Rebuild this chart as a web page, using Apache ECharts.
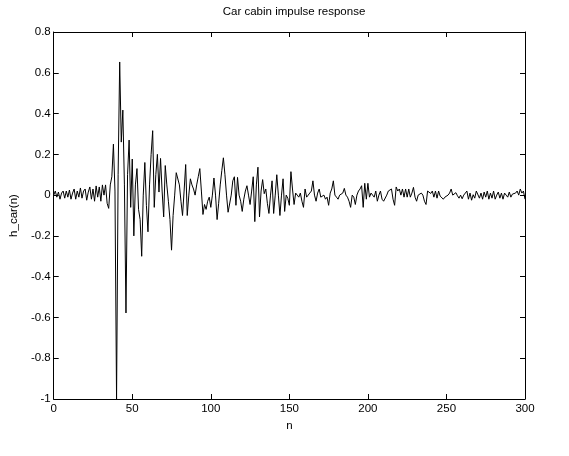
<!DOCTYPE html>
<html>
<head>
<meta charset="utf-8">
<script src="https://cdn.jsdelivr.net/npm/echarts@6/dist/echarts.min.js"></script>
<style>html,body{margin:0;padding:0;background:#fff}#c{width:569px;height:456px}</style>
</head>
<body>
<div id="c"></div>
<script>
const titleText = "Car cabin impulse response";
const xName = "n";
const yName = "h_car(n)";
const xTicks = [0, 50, 100, 150, 200, 250, 300];
const yTicks = [-1, -0.8, -0.6, -0.4, -0.2, 0, 0.2, 0.4, 0.6, 0.8];
const h = [
 0.00, 0.02, -0.01, 0.015, -0.02, 0.01, 0.02, -0.015, 0.02, -0.01,
 0.025, -0.02, 0.01, 0.03, -0.02, 0.02, -0.01, 0.035, -0.015, 0.02,
 0.03, -0.025, 0.015, 0.04, -0.02, 0.03, -0.03, 0.045, -0.01, 0.04,
 -0.03, 0.05, 0.0, 0.05, -0.04, -0.065, 0.05, 0.09, 0.25, 0.02,
 -1.0, 0.1, 0.653, 0.26, 0.417, 0.05, -0.578, 0.1, 0.27, -0.06,
 0.177, -0.2, 0.05, 0.13, -0.07, -0.12, -0.3, 0.0, 0.16, -0.05,
 -0.18, 0.05, 0.2, 0.316, -0.06, 0.1, 0.2, 0.015, 0.18, 0.02,
 -0.107, 0.145, 0.05, -0.03, -0.12, -0.27, -0.1, 0.0, 0.11, 0.115,
 0.05, -0.03, -0.1, 0.02, 0.15, -0.1, 0.0, 0.08, 0.05, 0.03,
 0.0, 0.05, 0.09, 0.13, 0.02, -0.095, -0.046, -0.07, -0.03, -0.01,
 -0.06, 0.0, 0.084, 0.0, -0.12, -0.04, 0.05, 0.12, 0.183, 0.1,
 0.0, -0.084, -0.09, 0.0, 0.07, 0.09, -0.05, 0.087, 0.0, -0.03,
 -0.08, -0.02, 0.02, 0.046, 0.0, -0.046, 0.02, 0.09, -0.13, 0.05,
 0.137, -0.107, 0.02, 0.076, 0.007, 0.03, -0.04, -0.09, 0.0, 0.07,
 -0.09, 0.0, 0.1, 0.0, -0.1, 0.0, 0.08, -0.08, 0.0, -0.015,
 -0.05, 0.115, 0.03, -0.046, 0.01, 0.0, -0.01, 0.01, -0.03, -0.06,
 0.03, -0.01, 0.0, 0.01, 0.02, 0.07, 0.0, -0.03, 0.01, 0.03,
 -0.01, -0.01, 0.0, -0.02, -0.01, -0.05, 0.01, 0.03, 0.07, 0.0,
 -0.01, -0.02, 0.0, 0.0, 0.01, 0.033, 0.0, -0.01, -0.03, -0.06,
 0.0, -0.01, -0.046, 0.0, 0.02, 0.03, 0.046, -0.06, 0.058, -0.02,
 0.058, -0.01, 0.01, 0.0, -0.01, 0.02, -0.03, 0.0, 0.02, -0.02,
 -0.03, -0.03, 0.0, 0.02, 0.023, 0.03, -0.02, -0.05, 0.04, 0.02,
 0.03, 0.0, 0.03, -0.01, 0.03, -0.01, 0.03, -0.01, 0.01, 0.038,
 -0.01, -0.03, 0.0, 0.0, 0.01, 0.0, -0.03, -0.046, 0.02, 0.015,
 0.008, 0.02, -0.01, 0.02, -0.015, 0.02, -0.005, -0.01, -0.02, -0.01,
 -0.01, 0.0, 0.01, 0.03, 0.0, 0.008, 0.012, -0.003, -0.015, 0.0,
 -0.018, 0.0, -0.003, 0.02, -0.02, 0.01, -0.025, 0.002, -0.015, 0.02,
 0.02, -0.015, 0.01, -0.02, 0.015, -0.01, 0.02, -0.02, 0.01, -0.015,
 0.02, -0.02, 0.0, 0.015, -0.015, 0.01, -0.02, 0.01, 0.0, -0.01,
 0.015, -0.01, 0.005, 0.0, 0.01, 0.02, 0.0, 0.03, 0.01, 0.02,
 -0.02
];
const pts = h.map((v, i) => [i, v]);
const font = "'Liberation Sans', Arial, sans-serif";
const chart = echarts.init(document.getElementById('c'), null, {renderer: 'canvas'});
const axLine = {show: true, onZero: false, lineStyle: {color: '#000', width: 1}};
const tick = {show: true, inside: true, length: 5, lineStyle: {color: '#000'}};
chart.setOption({
  animation: false,
  backgroundColor: '#fff',
  title: {text: titleText, left: 289, top: 1, textAlign: 'center',
    textStyle: {fontFamily: font, fontSize: 11.5, fontWeight: 'normal', color: '#000'}},
  grid: {left: 53, right: 44, top: 32, bottom: 57, containLabel: false},
  xAxis: [
    {type: 'value', min: xTicks[0], max: xTicks[xTicks.length-1], interval: 50, position: 'bottom',
     name: xName, nameLocation: 'middle', nameGap: 15,
     nameTextStyle: {fontFamily: font, fontSize: 11.5, color: '#000'},
     axisLine: axLine, axisTick: tick, splitLine: {show: false},
     axisLabel: {fontFamily: font, fontSize: 11.5, color: '#000', margin: 4}},
    {type: 'value', min: xTicks[0], max: xTicks[xTicks.length-1], interval: 50, position: 'top',
     axisLine: axLine, axisTick: tick, splitLine: {show: false}, axisLabel: {show: false}}
  ],
  yAxis: [
    {type: 'value', min: yTicks[0], max: yTicks[yTicks.length-1], interval: 0.2, position: 'left',
     name: yName, nameLocation: 'middle', nameGap: 22, nameRotate: 90,
     nameTextStyle: {fontFamily: font, fontSize: 11.5, color: '#000'},
     axisLine: axLine, axisTick: tick, splitLine: {show: false},
     axisLabel: {fontFamily: font, fontSize: 11.5, color: '#000', margin: 3,
       formatter: v => String(Math.round(v * 10) / 10)}},
    {type: 'value', min: yTicks[0], max: yTicks[yTicks.length-1], interval: 0.2, position: 'right',
     axisLine: axLine, axisTick: tick, splitLine: {show: false}, axisLabel: {show: false}}
  ],
  series: [{
    type: 'line', data: pts, xAxisIndex: 0, yAxisIndex: 0,
    showSymbol: false, symbol: 'none',
    lineStyle: {color: '#000', width: 1}
  }]
});
</script>
</body>
</html>
